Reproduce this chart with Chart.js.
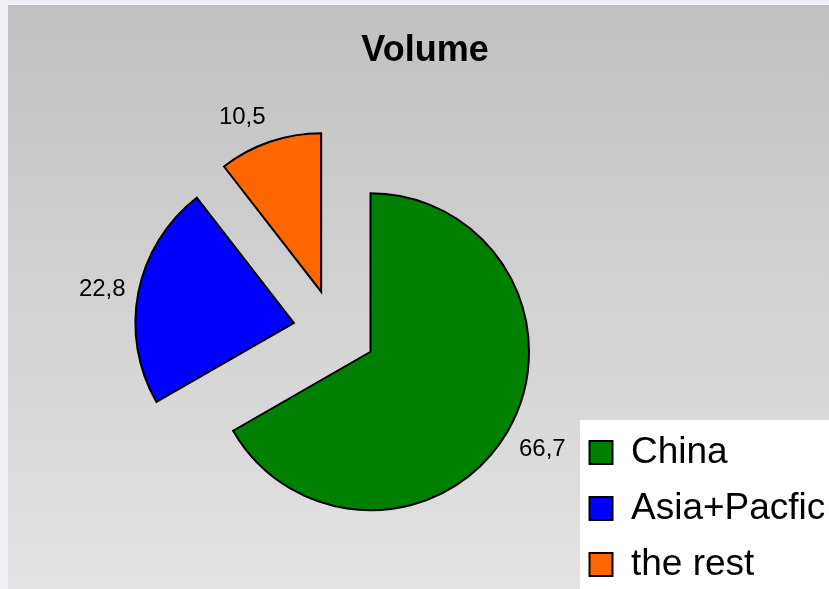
<!DOCTYPE html>
<html><head><meta charset="utf-8">
<script src="https://cdn.jsdelivr.net/npm/chart.js@4/dist/chart.umd.min.js"></script>
<style>
html,body{margin:0;padding:0;background:#eff0f5;overflow:hidden;width:829px;height:589px;}
#wrap{position:absolute;left:8px;top:5px;width:840px;height:600px;}
</style></head><body>
<div id="wrap"><canvas id="c" width="840" height="600"></canvas></div>
<script>
// ---- data ----
const chartTitle = 'Volume';
const categories = ['China', 'Asia+Pacfic', 'the rest'];
const volumes = [66.7, 22.8, 10.5];
const sliceColors = ['#008000', '#0000ff', '#ff6600'];

// ---- style / layout constants ----
const FONT = '"Liberation Sans", Arial, sans-serif';
const CANVAS_W = 840;
const EXPLODE = 41.5;        // px each slice is pulled out of the pie centre
const PIE_RADIUS = 158.5;
const LABEL_GAP = 13;        // px between slice rim and its value label
const LEG_FONT = 37, LEG_BOX = 23, LEG_PAD = 19;
const TITLE_CX = 417, PIE_CX = 326.6, LEGEND_LEFT = 562.5;

Chart.defaults.font.family = FONT;
Chart.defaults.color = '#000';

// natural legend width, as Chart.js computes it
const mctx = document.createElement('canvas').getContext('2d');
mctx.font = LEG_FONT + 'px ' + FONT;
const maxText = Math.max(...categories.map(c => mctx.measureText(c).width));
const legendW = LEG_PAD + LEG_BOX + LEG_FONT / 2 + maxText + 10;
const legendRight = LEGEND_LEFT + legendW;
const padLeft = 2 * TITLE_CX - legendRight;
const padRight = CANVAS_W - legendRight;
const spacerW = 2 * PIE_CX - LEGEND_LEFT - padLeft;

const bgPlugin = {
  id: 'bg',
  beforeDraw(chart) {
    const {ctx, width, height} = chart;
    ctx.save();
    const g = ctx.createLinearGradient(0, 0, 0, height);
    g.addColorStop(0, '#c0c0c0');
    g.addColorStop(1, '#e4e4e4');
    ctx.fillStyle = g;
    ctx.fillRect(0, 0, width, height);
    const lg = chart.legend;
    if (lg && lg.columnSizes && lg.columnSizes.length) {
      const top = lg.bottom - lg.columnSizes[0].height - 14;
      const left = lg.left + 9.5;
      ctx.fillStyle = '#ffffff';
      ctx.fillRect(left, top, width - left, height - top);
    }
    ctx.restore();
  }
};

// explode every slice: move its centre outwards along its own mid-angle
const explodePlugin = {
  id: 'explode',
  afterDatasetsUpdate(chart) {
    chart.getDatasetMeta(0).data.forEach(arc => {
      const mid = (arc.startAngle + arc.endAngle) / 2;
      arc.x += Math.cos(mid) * EXPLODE;
      arc.y += Math.sin(mid) * EXPLODE;
    });
  }
};

const labelPlugin = {
  id: 'sliceLabels',
  afterDatasetsDraw(chart) {
    const meta = chart.getDatasetMeta(0);
    const ds = chart.data.datasets[0];
    const ctx = chart.ctx;
    ctx.save();
    ctx.font = '24px ' + FONT;
    ctx.fillStyle = '#000';
    meta.data.forEach((arc, i) => {
      const p = arc.getProps(['x', 'y', 'startAngle', 'endAngle', 'outerRadius'], true);
      const mid = (p.startAngle + p.endAngle) / 2;
      const dx = Math.cos(mid), dy = Math.sin(mid);
      const r = p.outerRadius + LABEL_GAP;
      const px = p.x + dx * r, py = p.y + dy * r;
      ctx.textAlign = dx > 0.1 ? 'left' : (dx < -0.1 ? 'right' : 'center');
      ctx.textBaseline = dy < -0.4 ? 'bottom' : (dy > 0.4 ? 'top' : 'middle');
      const txt = String(ds.data[i]).replace('.', ',');
      ctx.fillText(txt, px, py);
    });
    ctx.restore();
  }
};

new Chart(document.getElementById('c'), {
  type: 'pie',
  data: {
    labels: categories,
    datasets: [{
      data: volumes,
      backgroundColor: sliceColors,
      borderColor: '#000000',
      borderWidth: 2,
      borderJoinStyle: 'miter',
      radius: PIE_RADIUS
    }]
  },
  options: {
    responsive: false,
    devicePixelRatio: 1,
    animation: false,
    events: [],
    layout: { padding: { left: padLeft, right: padRight, top: 0, bottom: 3 } },
    scales: {
      spacer: {
        type: 'linear',
        position: 'left',
        display: false,
        afterFit(scale) { scale.width = spacerW; }
      }
    },
    plugins: {
      title: {
        display: true,
        text: chartTitle,
        color: '#000',
        font: { size: 36, weight: 'bold', family: FONT, lineHeight: 1 },
        padding: { top: 27.7, bottom: -8.7 }
      },
      legend: {
        position: 'right',
        align: 'end',
        labels: {
          boxWidth: LEG_BOX,
          boxHeight: LEG_BOX,
          padding: LEG_PAD,
          color: '#000',
          font: { size: LEG_FONT, family: FONT }
        }
      },
      tooltip: { enabled: false }
    }
  },
  plugins: [bgPlugin, explodePlugin, labelPlugin]
});
</script>
</body></html>
